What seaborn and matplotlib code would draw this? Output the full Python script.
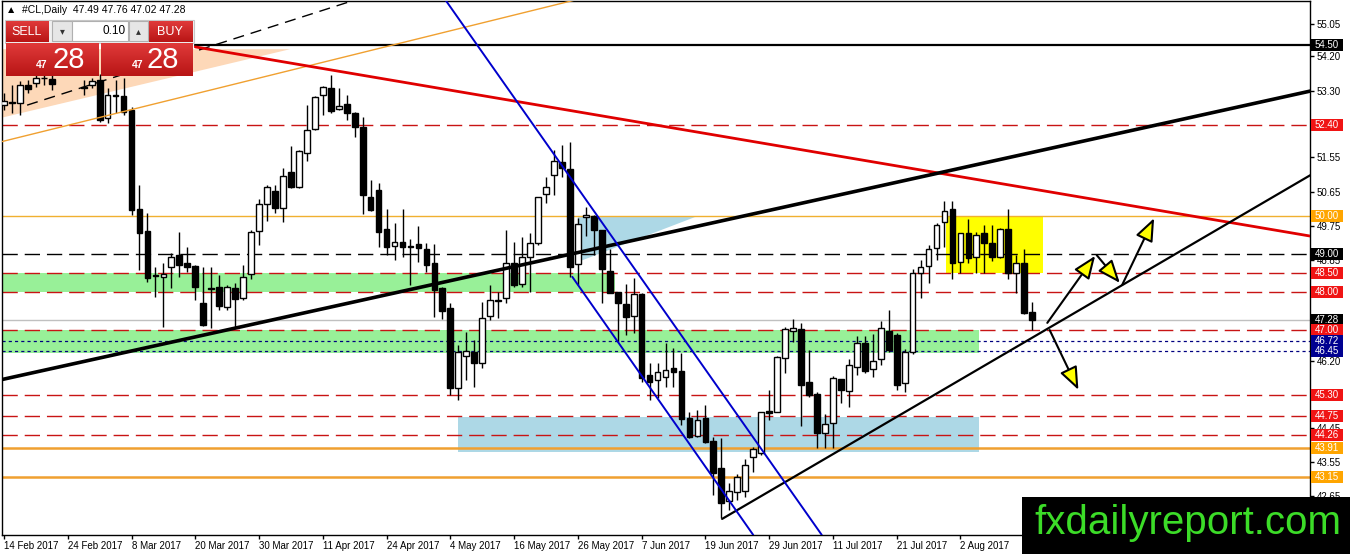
import numpy as np
import pandas as pd
import matplotlib
matplotlib.use("Agg")
import matplotlib.pyplot as plt
import matplotlib.transforms as mtrans
from matplotlib.patches import Rectangle, Polygon
from matplotlib.colors import LinearSegmentedColormap
import seaborn as sns

# ---------------- data ----------------
opens = [52.92, 53.00, 52.97, 53.45, 53.50, 53.63, 53.60, 53.75, 54.00, 53.90,
         53.40, 53.45, 53.58, 52.58, 53.19, 53.16, 52.79, 50.19, 49.61, 48.46,
         48.41, 48.67, 48.98, 48.77, 48.69, 47.72, 48.12, 48.14, 47.62, 48.12,
         47.85, 48.48, 49.61, 50.32, 50.66, 50.22, 51.16, 50.77, 51.66, 52.29,
         53.19, 53.37, 52.82, 52.95, 52.71, 52.35, 50.51, 50.69, 49.67, 49.22,
         49.32, 49.22, 49.27, 49.14, 48.77, 48.12, 47.59, 45.49, 46.33, 46.43,
         46.15, 47.38, 47.78, 47.85, 48.77, 48.22, 48.93, 49.30, 50.59, 51.08,
         51.43, 51.24, 48.75, 49.98, 50.01, 49.64, 48.56, 48.01, 47.70, 47.38,
         47.96, 45.83, 45.70, 45.78, 46.01, 45.93, 44.70, 44.22, 44.70, 44.10,
         43.39, 42.52, 42.76, 42.78, 43.68, 43.78, 44.88, 44.86, 46.28, 46.99,
         47.04, 45.65, 45.33, 44.31, 44.57, 45.73, 45.41, 46.04, 46.67, 45.99,
         46.25, 46.99, 46.88, 45.62, 46.43, 48.51, 48.69, 49.17, 49.85, 50.19,
         48.80, 49.56, 48.93, 49.56, 49.30, 48.93, 49.67, 48.51, 48.77, 47.49]
highs = [53.24, 53.45, 53.55, 53.58, 53.71, 53.76, 53.80, 54.10, 54.30, 54.10,
         53.58, 53.62, 53.75, 53.37, 53.58, 53.63, 52.87, 50.82, 50.09, 48.67,
         48.77, 49.03, 49.59, 49.19, 48.72, 48.67, 48.67, 48.46, 48.20, 48.25,
         48.72, 49.64, 50.45, 50.82, 50.82, 51.27, 51.85, 51.74, 52.92, 53.16,
         53.42, 53.71, 53.37, 53.19, 52.74, 52.61, 50.95, 50.87, 50.19, 49.82,
         50.19, 49.40, 49.74, 49.30, 49.27, 48.14, 47.72, 46.62, 46.96, 46.75,
         47.75, 48.20, 48.01, 49.64, 49.32, 49.46, 49.56, 50.51, 51.03, 51.74,
         51.87, 51.95, 49.95, 50.24, 50.03, 49.64, 49.14, 48.01, 48.22, 48.38,
         47.98, 46.15, 46.15, 46.67, 46.54, 46.41, 44.86, 44.91, 45.04, 44.20,
         44.17, 42.99, 43.23, 43.62, 43.94, 44.86, 45.44, 46.33, 47.09, 47.30,
         47.20, 46.49, 45.38, 44.81, 45.80, 45.73, 46.25, 46.86, 46.86, 46.91,
         47.25, 47.54, 46.93, 46.51, 48.62, 48.85, 49.25, 49.82, 50.40, 50.40,
         49.56, 49.93, 49.59, 49.77, 49.77, 49.69, 50.19, 48.98, 49.14, 47.76]
lows = [52.79, 52.71, 52.66, 53.24, 53.40, 53.45, 53.32, 53.72, 53.80, 53.74,
        53.19, 53.36, 52.48, 52.45, 52.71, 52.66, 50.03, 48.59, 48.27, 47.88,
        47.09, 48.12, 48.41, 48.54, 47.80, 47.12, 47.06, 47.54, 47.54, 47.06,
        47.80, 48.35, 49.25, 49.87, 50.09, 49.85, 50.74, 50.74, 51.45, 52.27,
        52.66, 52.71, 52.79, 52.53, 52.08, 50.06, 50.14, 49.19, 48.98, 48.85,
        48.93, 48.20, 48.80, 48.54, 47.35, 47.30, 45.30, 45.17, 45.70, 45.52,
        46.01, 47.28, 47.33, 47.72, 48.14, 48.14, 48.01, 49.25, 50.35, 50.56,
        51.03, 48.41, 48.20, 49.48, 48.98, 47.72, 47.98, 46.70, 46.88, 46.93,
        45.65, 45.17, 45.22, 45.52, 45.52, 44.52, 44.17, 44.20, 44.04, 42.68,
        42.07, 42.28, 42.55, 42.63, 43.28, 43.73, 44.65, 44.86, 45.88, 46.70,
        44.49, 45.25, 43.91, 43.91, 43.91, 45.09, 44.99, 45.83, 45.88, 45.78,
        46.09, 46.43, 45.44, 45.38, 46.38, 47.85, 48.25, 48.85, 49.19, 48.35,
        48.51, 48.77, 48.51, 48.51, 48.82, 48.90, 48.35, 47.98, 47.43, 47.02]
closes = [53.03, 52.97, 53.45, 53.35, 53.63, 53.62, 53.48, 54.00, 53.90, 53.85,
          53.37, 53.55, 52.53, 53.19, 53.17, 52.74, 50.17, 49.56, 48.38, 48.43,
          48.49, 48.93, 48.72, 48.67, 48.14, 47.14, 48.10, 47.64, 48.14, 47.83,
          48.41, 49.59, 50.32, 50.77, 50.22, 51.06, 50.77, 51.72, 52.27, 53.13,
          53.40, 52.76, 52.90, 52.71, 52.35, 50.56, 50.17, 49.59, 49.19, 49.32,
          49.19, 49.20, 49.17, 48.72, 48.06, 47.51, 45.49, 46.43, 46.46, 46.15,
          47.33, 47.80, 47.80, 48.77, 48.20, 48.93, 49.30, 50.51, 50.77, 51.45,
          51.27, 48.67, 49.80, 50.03, 49.64, 48.62, 47.98, 47.72, 47.35, 47.96,
          45.75, 45.65, 45.91, 45.96, 45.91, 44.68, 44.20, 44.65, 44.07, 43.26,
          42.47, 42.78, 43.15, 43.47, 43.88, 44.86, 44.83, 46.30, 47.04, 47.06,
          45.57, 45.30, 44.31, 44.54, 45.75, 45.44, 46.09, 46.67, 45.94, 46.20,
          47.06, 46.49, 45.57, 46.43, 48.51, 48.67, 49.14, 49.77, 50.14, 48.77,
          49.56, 48.90, 49.51, 49.30, 48.93, 49.67, 48.51, 48.77, 47.46, 47.28]

date_labels = ["14 Feb 2017", "24 Feb 2017", "8 Mar 2017", "20 Mar 2017",
               "30 Mar 2017", "11 Apr 2017", "24 Apr 2017", "4 May 2017",
               "16 May 2017", "26 May 2017", "7 Jun 2017", "19 Jun 2017",
               "29 Jun 2017", "11 Jul 2017", "21 Jul 2017", "2 Aug 2017"]
date_label_bars = [0, 8, 16, 24, 32, 40, 48, 56, 64, 72, 80, 88, 96, 104, 112, 120]

axis_ticks = [55.05, 54.20, 53.30, 52.40, 51.55, 50.65, 49.75, 48.85, 47.95,
              47.05, 46.20, 45.30, 44.45, 43.55, 42.65]
# tick labels that the price boxes cover completely in the reference
hidden_tick_labels = [52.40, 47.95, 47.05, 45.30]

level_prices = [54.50, 52.40, 50.00, 49.00, 48.50, 48.00, 47.28, 47.00, 46.72,
                46.45, 45.30, 44.75, 44.26, 43.91, 43.15]
level_kinds = ["black", "red", "orange_thin", "black_dash", "red", "red", "bid",
               "red", "navy", "navy", "red", "red", "red", "orange", "orange"]

# zones: (price_low, price_high, bar_start, bar_end)
green_zones = [(48.00, 48.50, -0.5, 76.7), (46.40, 47.00, -0.5, 122.3)]
blue_zone = (43.80, 44.72, 57.0, 122.3)
yellow_zone = (48.50, 50.00, 118.2, 130.4)
peach_triangle = [(-0.5, 54.39), (35.9, 54.39), (-0.5, 52.58)]
blue_triangle = [(72.0, 49.98), (86.7, 49.98), (72.0, 48.80)]

# trend lines: ((bar, price), (bar, price))
red_line = ((24.0, 54.45), (163.9, 49.48))
thick_black_line = ((-0.5, 45.70), (163.9, 53.29))
support_line = ((90.1, 42.05), (163.9, 51.08))
blue_line_upper = ((55.4, 55.68), (102.6, 41.63))
blue_line_lower = ((71.3, 48.41), (94.0, 41.63))
orange_line = ((-0.5, 51.95), (71.6, 55.68))
dashed_black_line = ((2.9, 52.92), (44.0, 55.68))
black_level_start = 24.0

# arrows: (start, tip)
arrows = [((130.9, 47.20), (136.9, 48.96)),
          ((137.1, 48.98), (140.0, 48.25)),
          ((140.3, 48.20), (144.3, 49.95)),
          ((131.2, 47.01), (134.8, 45.44))]

# ---------------- figure ----------------
sns.set_theme(style="white")
plt.rcParams["font.family"] = ["Liberation Sans", "DejaVu Sans"]

W, H = 1350, 554
fig = plt.figure(figsize=(W / 100, H / 100), dpi=100)
fig.patch.set_facecolor("white")
ax = fig.add_axes([2 / W, (H - 535) / H, 1308 / W, 534 / H])
ax.set_facecolor("white")
ax.set_xlim(-0.25, 163.86)
ax.set_ylim(41.627, 55.656)

# zones
for lo, hi, x0, x1 in green_zones:
    ax.add_patch(Rectangle((x0, lo), x1 - x0, hi - lo, fc="#98f098", ec="none", zorder=1))
ax.add_patch(Rectangle((blue_zone[2], blue_zone[0]), blue_zone[3] - blue_zone[2],
                       blue_zone[1] - blue_zone[0], fc="#add8e6", ec="none", zorder=1))
ax.add_patch(Rectangle((yellow_zone[2], yellow_zone[0]), yellow_zone[3] - yellow_zone[2],
                       yellow_zone[1] - yellow_zone[0], fc="#ffff00", ec="none", zorder=1))
ax.add_patch(Polygon(peach_triangle, closed=True, fc="#fdd8b8", ec="none", zorder=1))
ax.add_patch(Polygon(blue_triangle, closed=True, fc="#add8e6", ec="none", zorder=1))

# horizontal levels
styles = {
    "black": dict(color="black", ls="-", lw=1.6),
    "red": dict(color="#c81414", ls=(0, (11, 5)), lw=1.0),
    "orange_thin": dict(color="#f0b030", ls="-", lw=1.0),
    "black_dash": dict(color="black", ls=(0, (11, 5)), lw=1.0),
    "bid": dict(color="#c0c0c0", ls="-", lw=1.0),
    "navy": dict(color="#000080", ls=(0, (2.5, 2.5)), lw=0.9),
    "orange": dict(color="#f0a030", ls="-", lw=1.8),
}
box_colors = {"black": ("black", "white"), "red": ("#f01414", "white"),
              "orange_thin": ("#ffa500", "white"), "black_dash": ("black", "white"),
              "bid": ("black", "white"), "navy": ("#000090", "white"),
              "orange": ("#ffa500", "white")}
for p, k in zip(level_prices, level_kinds):
    st = styles[k]
    xs = [black_level_start if k == "black" else -0.25, 163.86]
    ax.plot(xs, [p, p], color=st["color"], ls=st["ls"], lw=st["lw"], zorder=2)

# candles
df = pd.DataFrame({"o": opens, "h": highs, "l": lows, "c": closes})
df["bar"] = np.arange(len(df))
up = df[df.c >= df.o]
dn = df[df.c < df.o]
ax.vlines(df.bar, df.l, df.h, color="black", lw=1.0, zorder=4)
ax.bar(up.bar, (up.c - up.o).clip(lower=0.02), bottom=up.o, width=0.72,
       color="white", edgecolor="black", linewidth=1.0, zorder=5)
ax.bar(dn.bar, dn.o - dn.c, bottom=dn.c, width=0.72,
       color="black", edgecolor="black", linewidth=1.0, zorder=5)

# trend lines (seaborn)
def seg(line, **kw):
    (x0, y0), (x1, y1) = line
    sns.lineplot(x=[x0, x1], y=[y0, y1], ax=ax, sort=False, legend=False, **kw)

seg(orange_line, color="#f0a030", lw=1.0, zorder=6)
ax.plot([dashed_black_line[0][0], dashed_black_line[1][0]],
        [dashed_black_line[0][1], dashed_black_line[1][1]],
        color="black", lw=1.0, ls=(0, (8, 5)), zorder=6)
seg(red_line, color="#e00000", lw=2.0, zorder=6)
seg(thick_black_line, color="black", lw=2.6, zorder=6)
seg(support_line, color="black", lw=1.6, zorder=6)
seg(blue_line_upper, color="#0000cc", lw=1.4, zorder=6)
seg(blue_line_lower, color="#0000cc", lw=1.4, zorder=6)

for start, tip in arrows:
    ax.annotate("", xy=tip, xytext=start,
                arrowprops=dict(arrowstyle="-|>,head_length=1.0,head_width=0.4",
                                fc="#ffff00", ec="black", lw=1.5,
                                mutation_scale=14, shrinkA=0, shrinkB=0),
                zorder=7)

# axes styling
for s in ax.spines.values():
    s.set_color("black")
    s.set_linewidth(1.0)
ax.yaxis.tick_right()
ax.set_yticks(axis_ticks)
ax.set_yticklabels(["" if t in hidden_tick_labels else f"{t:.2f}" for t in axis_ticks])
ax.set_xticks(date_label_bars)
ax.set_xticklabels(date_labels)
ax.tick_params(axis="y", right=True, direction="out", length=3, width=1,
               labelsize=7, pad=2, colors="black")
ax.tick_params(axis="x", bottom=True, direction="out", length=3, width=1,
               labelsize=7, pad=1, colors="black")
for lab in ax.get_xticklabels():
    lab.set_ha("left")
ax.grid(False)

# right-axis boxed labels
bt = mtrans.blended_transform_factory(ax.transAxes, ax.transData)
px_per_price = 38.06
box_h = 12 / px_per_price
for p, k in zip(level_prices, level_kinds):
    fc, tc = box_colors[k]
    ax.add_patch(Rectangle(((1311 - 2) / 1308, p - box_h / 2), 32 / 1308, box_h,
                           transform=bt, fc=fc, ec="none", clip_on=False, zorder=20))
    ax.text((1327 - 2) / 1308, p, f"{p:.2f}", transform=bt, color=tc, fontsize=7,
            ha="center", va="center", clip_on=False, zorder=21)

# ---------------- overlays (pixel placed) ----------------
def frect(x0, y0, x1, y1, **kw):
    r = Rectangle((x0 / W, 1 - y1 / H), (x1 - x0) / W, (y1 - y0) / H,
                  transform=fig.transFigure, **kw)
    fig.add_artist(r)

def ftext(x, y, s, **kw):
    fig.text(x / W, 1 - y / H, s, **kw)

red_cmap = LinearSegmentedColormap.from_list("r", ["#e03a3a", "#b81515"])

def grad_box(x0, y0, x1, y1):
    a = fig.add_axes([x0 / W, 1 - y1 / H, (x1 - x0) / W, (y1 - y0) / H], zorder=10)
    a.imshow(np.linspace(0, 1, 60).reshape(-1, 1), aspect="auto", cmap=red_cmap,
             extent=[0, 1, 0, 1])
    a.set_axis_off()

ftext(6, 10, "▲  #CL,Daily  47.49 47.76 47.02 47.28", fontsize=7.5, color="black",
      va="center", ha="left", zorder=30)

frect(5, 20, 194, 43, fc="#f0f0f0", ec="#c8c8c8", lw=0.8, zorder=9)
grad_box(6, 21, 49, 42)
grad_box(149, 21, 193, 42)
grad_box(6, 43, 99, 76)
grad_box(101, 43, 193, 76)
frect(52, 21, 72, 41, fc="#e6e6e6", ec="#b0b0b0", lw=0.8, zorder=11)
frect(72, 21, 128, 41, fc="white", ec="#b0b0b0", lw=0.8, zorder=11)
frect(129, 21, 148, 41, fc="#e6e6e6", ec="#b0b0b0", lw=0.8, zorder=11)
ftext(62, 31, "▾", fontsize=7, color="#333333", ha="center", va="center",
      family=["DejaVu Sans"], zorder=30)
ftext(138, 31, "▴", fontsize=7, color="#333333", ha="center", va="center",
      family=["DejaVu Sans"], zorder=30)
ftext(126, 31, "0.10", fontsize=8.5, color="black", ha="right", va="center", zorder=30)
ftext(27, 32, "SELL", fontsize=9, color="white", ha="center", va="center", zorder=30)
ftext(170, 32, "BUY", fontsize=9, color="white", ha="center", va="center", zorder=30)
ftext(48, 68, "47", fontsize=7.5, color="white", ha="right", va="baseline",
      fontweight="bold", zorder=30)
ftext(52, 68, "28", fontsize=21, color="white", ha="left", va="baseline", zorder=30)
ftext(143, 68, "47", fontsize=7.5, color="white", ha="right", va="baseline",
      fontweight="bold", zorder=30)
ftext(147, 68, "28", fontsize=21, color="white", ha="left", va="baseline", zorder=30)

# watermark
frect(1022, 497, 1350, 554, fc="black", ec="none", zorder=25)
ftext(1188, 523, "fxdailyreport.com", fontsize=29, color="#3cdc28", ha="center",
      va="center", zorder=26)

fig.savefig("out.png", dpi=100, facecolor="white")
